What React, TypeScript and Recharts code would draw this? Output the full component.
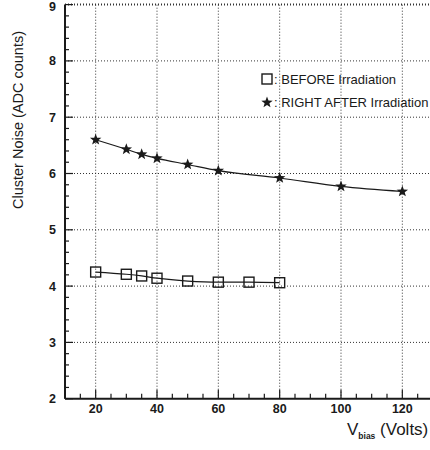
import { LineChart, Line, XAxis, YAxis, ReferenceLine } from "recharts";

const beforeVolts = [20, 30, 35, 40, 50, 60, 70, 80];
const beforeNoise = [4.25, 4.21, 4.18, 4.14, 4.09, 4.07, 4.07, 4.06];

const afterVolts = [20, 30, 35, 40, 50, 60, 80, 100, 120];
const afterNoise = [6.6, 6.43, 6.34, 6.27, 6.16, 6.05, 5.92, 5.77, 5.68];

const xTicks = [10, 15, 20, 25, 30, 35, 40, 45, 50, 55, 60, 65, 70, 75, 80, 85, 90, 95, 100, 105, 110, 115, 120, 125, 130];
const xLabels = [20, 40, 60, 80, 100, 120];
const yTicks = [2, 2.2, 2.4, 2.6, 2.8, 3, 3.2, 3.4, 3.6, 3.8, 4, 4.2, 4.4, 4.6, 4.8, 5, 5.2, 5.4, 5.6, 5.8, 6, 6.2, 6.4, 6.6, 6.8, 7, 7.2, 7.4, 7.6, 7.8, 8, 8.2, 8.4, 8.6, 8.8, 9];
const yLabels = [2, 3, 4, 5, 6, 7, 8, 9];
const yGrid = [3, 4, 5, 6, 7, 8, 9];

const before = beforeVolts.map((v, i) => ({ v, noise: beforeNoise[i] }));
const after = afterVolts.map((v, i) => ({ v, noise: afterNoise[i] }));

const FONT = "'Liberation Sans', Arial, sans-serif";
const INK = "#1a1a1a";

function starPoints(cx: number, cy: number, ro: number, ri: number) {
  const pts: string[] = [];
  for (let i = 0; i < 10; i++) {
    const r = i % 2 === 0 ? ro : ri;
    const a = -Math.PI / 2 + (i * Math.PI) / 5;
    pts.push(`${cx + r * Math.cos(a)},${cy + r * Math.sin(a)}`);
  }
  return pts.join(" ");
}

function SquareDot({ cx, cy }: any) {
  return <rect x={cx - 5} y={cy - 5} width={10} height={10} fill="none" stroke={INK} strokeWidth={1.4} />;
}

function StarDot({ cx, cy }: any) {
  return <polygon points={starPoints(cx, cy, 6, 2.5)} fill={INK} />;
}

function XTick({ x, y, payload }: any) {
  const major = xLabels.includes(payload.value);
  return (
    <g>
      <line x1={x} x2={x} y1={y} y2={y - (major ? 9 : 5)} stroke={INK} strokeWidth={1.2} />
      {major && (
        <text x={x} y={y + 14} textAnchor="middle" fontSize={12.5} fontWeight="bold" fontFamily={FONT} fill={INK}>
          {payload.value}
        </text>
      )}
    </g>
  );
}

function YTick({ x, y, payload }: any) {
  const major = yLabels.includes(payload.value);
  return (
    <g>
      <line x1={x} x2={x + (major ? 8 : 4)} y1={y} y2={y} stroke={INK} strokeWidth={1.2} />
      {major && (
        <text x={x - 9} y={Math.max(y + 4.5, 11)} textAnchor="end" fontSize={12.5} fontWeight="bold" fontFamily={FONT} fill={INK}>
          {payload.value}
        </text>
      )}
    </g>
  );
}

export default function App() {
  return (
    <div style={{ position: "absolute", left: 0, top: 0, width: 430, height: 450, overflow: "hidden", background: "#fff" }}>
      <LineChart width={435} height={450} margin={{ top: 4.6, right: 2, bottom: 0, left: 0 }}>
        {xLabels.map((v) => (
          <ReferenceLine key={"gx" + v} x={v} stroke="#333" strokeDasharray="1 2" />
        ))}
        {yGrid.map((v) => (
          <ReferenceLine key={"gy" + v} y={v} stroke="#333" strokeDasharray="1 2" strokeWidth={v === 9 ? 2 : 1} />
        ))}
        <XAxis
          dataKey="v"
          type="number"
          domain={[10, 130]}
          ticks={xTicks}
          interval={0}
          height={51.3}
          tickSize={0}
          tickMargin={0}
          tickLine={false}
          axisLine={{ stroke: INK, strokeWidth: 2 }}
          tick={<XTick />}
        />
        <YAxis
          type="number"
          domain={[2, 9]}
          ticks={yTicks}
          interval={0}
          width={65}
          tickSize={0}
          tickMargin={0}
          tickLine={false}
          axisLine={{ stroke: INK, strokeWidth: 2 }}
          tick={<YTick />}
        />
        <Line
          data={before}
          dataKey="noise"
          type="monotone"
          stroke={INK}
          strokeWidth={1.2}
          dot={(p: any) => <SquareDot key={"b" + p.index} cx={p.cx} cy={p.cy} />}
          isAnimationActive={false}
        />
        <Line
          data={after}
          dataKey="noise"
          type="monotone"
          stroke={INK}
          strokeWidth={1.2}
          dot={(p: any) => <StarDot key={"a" + p.index} cx={p.cx} cy={p.cy} />}
          isAnimationActive={false}
        />
      </LineChart>
      <div
        style={{
          position: "absolute",
          left: 18,
          top: 120,
          transform: "translate(-50%, -50%) rotate(-90deg)",
          whiteSpace: "nowrap",
          fontFamily: FONT,
          fontSize: 14.5,
          color: INK,
        }}
      >
        Cluster Noise (ADC counts)
      </div>
      <div
        style={{
          position: "absolute",
          left: 347,
          top: 420,
          whiteSpace: "nowrap",
          fontFamily: FONT,
          fontSize: 17,
          color: INK,
        }}
      >
        V<sub style={{ fontSize: 8.5, fontWeight: "bold" }}>bias</sub> (Volts)
      </div>
      <div style={{ position: "absolute", left: 261, top: 68, fontFamily: FONT, fontSize: 13, color: INK, whiteSpace: "nowrap", lineHeight: "23px" }}>
        <div>
          <svg width={13} height={12} style={{ verticalAlign: "-1px" }}>
            <rect x={1} y={1} width={10} height={10} fill="none" stroke={INK} strokeWidth={1.4} />
          </svg>
          : BEFORE Irradiation
        </div>
        <div>
          <svg width={13} height={12} style={{ verticalAlign: "-1px" }}>
            <polygon points={starPoints(6, 6.5, 6, 2.5)} fill={INK} />
          </svg>
          : RIGHT AFTER Irradiation
        </div>
      </div>
    </div>
  );
}
